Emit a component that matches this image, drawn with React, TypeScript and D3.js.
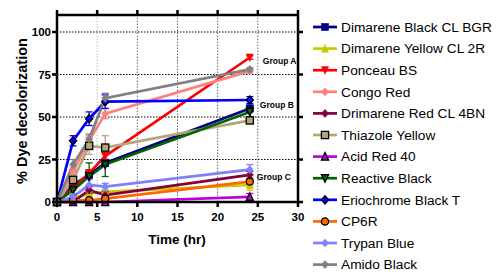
import React from "react";
import * as d3 from "d3";

const times = [0, 2, 4, 6, 24];
const seriesNames = [
  "Dimarene Black CL BGR",
  "Dimarene Yellow CL 2R",
  "Ponceau BS",
  "Congo Red",
  "Drimarene Red CL 4BN",
  "Thiazole Yellow",
  "Acid Red 40",
  "Reactive Black",
  "Eriochrome Black T",
  "CP6R",
  "Trypan Blue",
  "Amido Black",
];
const dimareneBlack = [0, 10, 16, 23, 55];
const dimareneYellow = [0, 2, 5, 6, 10];
const ponceau = [0, 8, 17, 27, 85];
const congoRed = [0, 18, 36, 52, 77];
const drimareneRed = [0, 0, 7, 4, 16];
const thiazole = [0, 13, 33, 32, 48];
const acidRed = [0, 0, 0, 0, 3];
const reactiveBlack = [0, 7, 15, 22, 53];
const eriochrome = [0, 36, 49, 59, 60];
const cp6r = [0, 1, 1, 2, 12];
const trypan = [0, 3, 10, 9, 19];
const amido = [0, 22, 37, 61, 78];

const errDimareneBlack = [0, 1, 2, 2, 2];
const errDimareneYellow = [0, 1, 1, 1, 3];
const errPonceau = [0, 1, 2, 2, 1];
const errCongo = [0, 2, 3, 3, 1];
const errDrimarene = [0, 1, 2, 2, 2];
const errThiazole = [0, 3, 5, 7, 2];
const errAcid = [0, 0, 1, 1, 2];
const errReactive = [0, 3, 8, 7, 3];
const errErio = [0, 3, 4, 4, 2];
const errCp6r = [0, 1, 1, 2, 2];
const errTrypan = [0, 2, 3, 2, 3];
const errAmido = [0, 3, 3, 3, 1];

const allValues = [dimareneBlack, dimareneYellow, ponceau, congoRed, drimareneRed, thiazole, acidRed, reactiveBlack, eriochrome, cp6r, trypan, amido];
const allErrors = [errDimareneBlack, errDimareneYellow, errPonceau, errCongo, errDrimarene, errThiazole, errAcid, errReactive, errErio, errCp6r, errTrypan, errAmido];
const colors = ["#000080", "#c8c800", "#ff0000", "#ff8080", "#800040", "#b4a67c", "#bb00dd", "#006400", "#0000ff", "#ff6600", "#8080ff", "#808080"];
const markers = ["square", "triUp", "triDown", "diamond", "diamond", "squareO", "triUpO", "triDownO", "diamondO", "circleO", "diamond", "diamond"];

const xTicks = [0, 5, 10, 15, 20, 25, 30];
const yTicks = [0, 25, 50, 75, 100];
const groupLabels = ["Group A", "Group B", "Group C"];
const groupY = [83, 57, 15];

function Marker({ type, x, y, color }: { type: string; x: number; y: number; color: string }) {
  const outlined = type.endsWith("O");
  const stroke = outlined ? "#000" : color;
  const sw = outlined ? 1.3 : 0.5;
  const s = 3.6;
  if (type.startsWith("square")) return <rect x={x - s} y={y - s} width={2 * s} height={2 * s} fill={color} stroke={stroke} strokeWidth={sw} />;
  if (type.startsWith("triUp")) return <path d={`M${x},${y - s - 0.5}L${x + s},${y + s}L${x - s},${y + s}Z`} fill={color} stroke={stroke} strokeWidth={sw} />;
  if (type.startsWith("triDown")) return <path d={`M${x},${y + s + 0.5}L${x + s},${y - s}L${x - s},${y - s}Z`} fill={color} stroke={stroke} strokeWidth={sw} />;
  if (type.startsWith("circle")) return <circle cx={x} cy={y} r={s} fill={color} stroke={stroke} strokeWidth={sw} />;
  return <path d={`M${x},${y - s - 0.5}L${x + s},${y}L${x},${y + s + 0.5}L${x - s},${y}Z`} fill={color} stroke={stroke} strokeWidth={sw} />;
}

export default function App() {
  const W = 500, H = 280;
  const x = d3.scaleLinear().domain([0, 30]).range([57, 298]);
  const y = d3.scaleLinear().domain([0, 110]).range([202, 15]);
  const line = d3.line<number>().x((_, i) => x(times[i])).y((d) => y(d));
  const font = "Arial, 'Liberation Sans', sans-serif";

  return (
    <svg width={W} height={H} style={{ position: "absolute", left: 0, top: 0, background: "#fff" }} fontFamily={font}>
      {/* grid */}
      {yTicks.filter((t) => t > 0).map((t) => (
        <line key={"gy" + t} x1={x(0)} x2={x(30)} y1={y(t)} y2={y(t)} stroke="#000" strokeWidth={1} strokeDasharray="1.5,1.5" />
      ))}
      {xTicks.filter((t) => t > 0 && t < 30).map((t) => (
        <line key={"gx" + t} x1={x(t)} x2={x(t)} y1={y(0)} y2={y(110)} stroke={t === 5 ? "#bbb" : "#666"} strokeWidth={1} strokeDasharray="1.5,1.5" />
      ))}
      {/* series lines */}
      {allValues.map((vals, si) => (
        <path key={"l" + si} d={line(vals) || ""} fill="none" stroke={colors[si]} strokeWidth={2.7} />
      ))}
      {/* error bars */}
      {allValues.map((vals, si) => (
        <g key={"e" + si} stroke={colors[si]} strokeWidth={1.3}>
          {vals.map((v, i) => {
            const e = allErrors[si][i];
            if (!e) return null;
            const cx = x(times[i]);
            return (
              <g key={i}>
                <line x1={cx} x2={cx} y1={y(v - e)} y2={y(v + e)} />
                <line x1={cx - 3.5} x2={cx + 3.5} y1={y(v + e)} y2={y(v + e)} />
                <line x1={cx - 3.5} x2={cx + 3.5} y1={y(v - e)} y2={y(v - e)} />
              </g>
            );
          })}
        </g>
      ))}
      {/* markers */}
      {allValues.map((vals, si) => (
        <g key={"m" + si}>
          {vals.map((v, i) => (
            <Marker key={i} type={markers[si]} x={x(times[i])} y={y(v)} color={colors[si]} />
          ))}
        </g>
      ))}
      {/* axes frame */}
      <g stroke="#000" strokeWidth={2.5} fill="none">
        <line x1={x(0)} x2={x(0)} y1={y(0) + 1} y2={y(110)} />
        <line x1={x(30)} x2={x(30)} y1={y(0) + 1} y2={y(110)} />
        <line x1={x(0) - 1} x2={x(30) + 1} y1={y(0)} y2={y(0)} />
        <line x1={x(0) - 1} x2={x(30) + 1} y1={y(110)} y2={y(110)} />
        {xTicks.map((t) => (
          <g key={"xt" + t}>
            <line x1={x(t)} x2={x(t)} y1={y(0)} y2={y(0) + 5} />
            <line x1={x(t)} x2={x(t)} y1={y(110)} y2={y(110) - 5} />
          </g>
        ))}
        {yTicks.map((t) => (
          <g key={"yt" + t}>
            <line x1={x(0)} x2={x(0) - 5} y1={y(t)} y2={y(t)} />
            <line x1={x(30)} x2={x(30) + 5} y1={y(t)} y2={y(t)} />
          </g>
        ))}
      </g>
      {xTicks.map((t) => (
        <text key={"xl" + t} x={x(t)} y={y(0) + 19} textAnchor="middle" fontSize={11.5} fontWeight="bold">{t}</text>
      ))}
      {yTicks.map((t) => (
        <text key={"yl" + t} x={x(0) - 6} y={y(t) + 4} textAnchor="end" fontSize={11.5} fontWeight="bold">{t}</text>
      ))}
      <text x={177} y={244} textAnchor="middle" fontSize={13.5} fontWeight="bold">Time (hr)</text>
      <text transform={`translate(27,${111}) rotate(-90)`} textAnchor="middle" fontSize={14.5} fontWeight="bold">% Dye decolorization</text>
      {/* group labels */}
      {groupLabels.map((g, i) => (
        <text key={g} x={x(25) + 3 - (i === 0 ? -2 : i === 1 ? 1 : 4)} y={y(groupY[i]) + 3} fontSize={8.5} fontWeight="bold">{g}</text>
      ))}
      {/* legend */}
      {seriesNames.map((n, i) => {
        const ly = 27 + i * 21.6;
        return (
          <g key={"lg" + i}>
            <line x1={313} x2={337} y1={ly} y2={ly} stroke={colors[i]} strokeWidth={2.7} />
            <Marker type={markers[i]} x={325} y={ly} color={colors[i]} />
            <text x={341} y={ly + 4.8} fontSize={13.7}>{n}</text>
          </g>
        );
      })}
    </svg>
  );
}
